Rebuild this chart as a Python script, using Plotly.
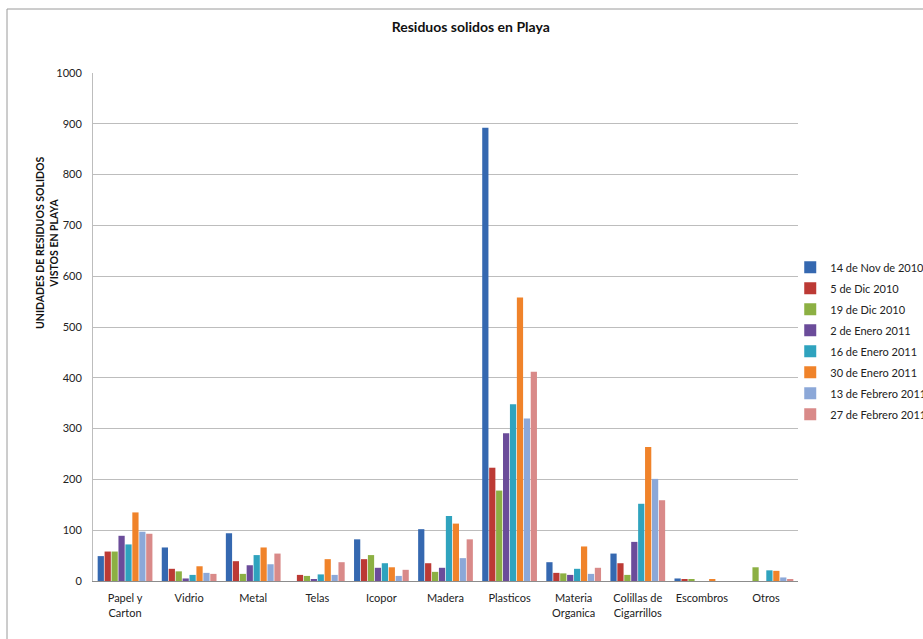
import plotly.graph_objects as go

categories = ["Papel y<br>Carton", "Vidrio", "Metal", "Telas", "Icopor", "Madera",
              "Plasticos", "Materia<br>Organica", "Colillas de<br>Cigarrillos", "Escombros", "Otros"]

series_names = ["14 de Nov de 2010", "5 de Dic 2010", "19 de Dic 2010", "2 de Enero 2011",
                "16 de Enero 2011", "30 de Enero 2011", "13 de Febrero 2011", "27 de Febrero 2011"]

nov14 = [49, 66, 94, 0, 82, 102, 892, 37, 54, 5, 0]
dic5 = [58, 24, 39, 12, 43, 35, 223, 16, 35, 3, 0]
dic19 = [58, 19, 14, 10, 51, 18, 178, 15, 12, 4, 27]
ene2 = [89, 5, 31, 2, 26, 26, 291, 12, 77, 0, 0]
ene16 = [72, 12, 51, 13, 35, 128, 348, 24, 152, 0, 21]
ene30 = [135, 29, 66, 43, 27, 113, 558, 68, 264, 4, 20]
feb13 = [97, 16, 33, 12, 10, 45, 320, 14, 201, 0, 7]
feb27 = [93, 14, 54, 37, 22, 82, 412, 26, 159, 0, 3]

series_values = [nov14, dic5, dic19, ene2, ene16, ene30, feb13, feb27]
colors = ["#3568B0", "#BC3A35", "#8CB043", "#6B4C9A", "#2FA3BE", "#F0832A", "#8CA8D8", "#D98A89"]

FONT = "Lato, 'Liberation Sans', sans-serif"

fig = go.Figure()
for name, vals, c in zip(series_names, series_values, colors):
    fig.add_trace(go.Bar(x=categories, y=vals, name=name, legendgroup=name,
                         marker=dict(color=c, line=dict(width=0))))

fig.update_layout(
    width=923, height=639,
    margin=dict(l=93, r=125, t=73, b=58, autoexpand=False),
    paper_bgcolor="white", plot_bgcolor="white",
    font=dict(family=FONT, size=11, color="#222222"),
    barmode="group", bargap=0.135, bargroupgap=0.1,
    title=dict(text="<b>Residuos solidos en Playa</b>", x=0.51, xanchor="center",
               y=1 - 27 / 639, yanchor="middle", font=dict(family=FONT, size=14, color="#111111")),
    legend=dict(x=0.989, xanchor="left", y=0.473, yanchor="middle", tracegroupgap=2,
                font=dict(family=FONT, size=11, color="#222222"), bgcolor="rgba(0,0,0,0)"),
    showlegend=True,
)
fig.update_yaxes(range=[0, 1000], dtick=100, showgrid=True, gridcolor="#BDBDBD", gridwidth=1,
                 showline=True, linecolor="#BDBDBD", linewidth=1, zeroline=False,
                 ticks="", ticklabelstandoff=8, tickfont=dict(family=FONT, size=11, color="#222222"))
fig.update_xaxes(showline=True, linecolor="#8C8C8C", linewidth=1, ticks="",
                 ticklabelstandoff=7, tickfont=dict(family=FONT, size=11, color="#222222"))

fig.add_annotation(text="<b>UNIDADES DE RESIDUOS SOLIDOS<br>VISTOS EN PLAYA</b>",
                   xref="paper", yref="paper", x=(47 - 93) / 705, y=(581 - 243) / 508,
                   textangle=-90, showarrow=False, xanchor="center", yanchor="middle",
                   font=dict(family=FONT, size=10.5, color="#111111"))

fig.add_shape(type="rect", xref="paper", yref="paper",
              x0=(7 - 93) / 705, x1=1.4, y0=-0.3, y1=(581 - 9) / 508,
              line=dict(color="#9A9A9A", width=1), fillcolor="rgba(0,0,0,0)", layer="below")

fig.write_html("out.html")
